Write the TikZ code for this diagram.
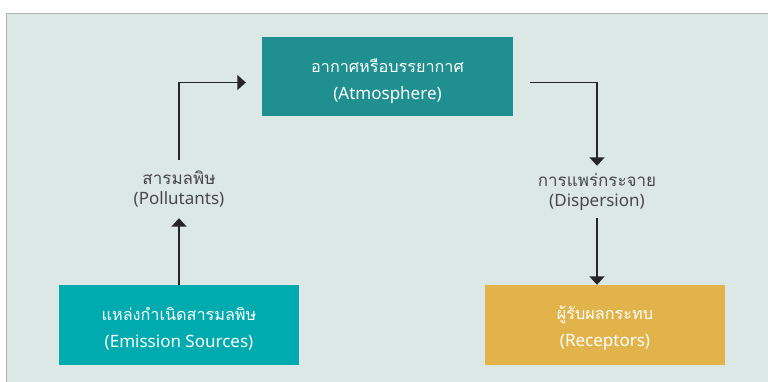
\documentclass[tikz,border=0pt]{standalone}
\usepackage{fontspec}
\setmainfont{Noto Sans}
\newfontfamily\thai[Script=Thai]{Loma}
\usetikzlibrary{arrows.meta}
\definecolor{bgpanel}{HTML}{DCE8E6}
\definecolor{atmcol}{HTML}{1F8F8F}
\definecolor{srccol}{HTML}{00ABAF}
\definecolor{reccol}{HTML}{E1B34A}
\definecolor{labcol}{HTML}{484848}
\definecolor{linecol}{HTML}{262626}
\newcommand{\thbox}[1]{{\thai\fontsize{16.2}{26}\selectfont #1}}
\newcommand{\thlab}[1]{{\thai\fontsize{17}{20.5}\selectfont #1}}
\begin{document}
\begin{tikzpicture}[x=1pt,y=-1pt,
  boxshape/.style={draw=none, inner sep=0pt},
  boxtext/.style={text=white, align=center, font=\fontsize{17}{26.5}\selectfont, inner sep=0pt},
  lab/.style={text=labcol, align=center, font=\fontsize{17}{20.5}\selectfont, inner sep=0pt},
  arr/.style={draw=linecol, line width=1.9pt, -{Triangle[width=15pt,length=8.5pt]}}]
\useasboundingbox (0,0) rectangle (768,382);
\fill[white] (0,0) rectangle (768,382);
\filldraw[fill=bgpanel, draw=gray!60, line width=0.8pt] (6,13) rectangle (772,386);
\node[boxshape, fill=atmcol, minimum width=251pt, minimum height=79pt] (atm) at (387.5,76.5) {};
\node[boxtext] (atmt) at (387.5,81) {\thbox{อากาศหรือบรรยากาศ}\\(Atmosphere)};
\node[boxshape, fill=srccol, minimum width=240pt, minimum height=80pt] (src) at (179,325) {};
\node[boxtext] (srct) at (179,328.5) {\thbox{แหล่งกำเนิดสารมลพิษ}\\(Emission Sources)};
\node[boxshape, fill=reccol, minimum width=240pt, minimum height=80pt] (rec) at (605,325) {};
\node[boxtext] (rect) at (605,328.5) {\thbox{ผู้รับผลกระทบ}\\(Receptors)};
\node[lab, minimum height=58pt] (pol) at (179,189) {\thlab{สารมลพิษ}\\(Pollutants)};
\node[lab, minimum height=52pt] (dis) at (597,192) {\thlab{การแพร่กระจาย}\\(Dispersion)};
\draw[arr] (src.north) -- (pol.south);
\draw[arr] (pol.north) |- ([xshift=-16pt,yshift=-6pt]atm.west);
\draw[arr] ([xshift=17pt,yshift=-6pt]atm.east) -| (dis.north);
\draw[arr] (dis.south) -- (dis.south |- rec.north);
\end{tikzpicture}
\end{document}
